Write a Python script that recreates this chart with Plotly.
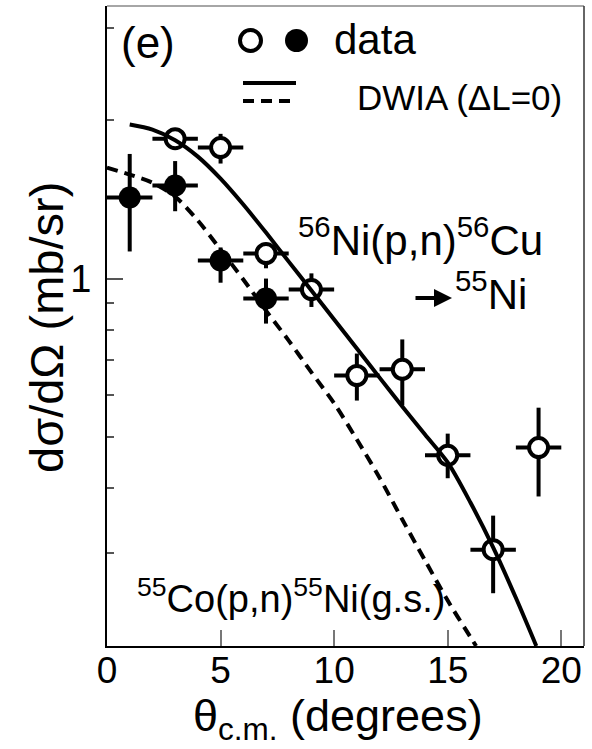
import plotly.graph_objects as go

# ---------------- data ----------------
theta_ni = [3, 5, 7, 9, 11, 13, 15, 17, 19]
xs_ni = [1.845, 1.775, 1.116, 0.953, 0.654, 0.672, 0.461, 0.305, 0.477]
ni_err_up = [0.06, 0.11, 0.05, 0.07, 0.066, 0.094, 0.046, 0.049, 0.091]
ni_err_dn = [0.07, 0.12, 0.07, 0.07, 0.068, 0.098, 0.044, 0.053, 0.092]
ni_xerr = [1, 1, 1, 1, 1, 1, 1, 1, 1]

theta_co = [1, 3, 5, 7]
xs_co = [1.426, 1.503, 1.082, 0.916]
co_err_up = [0.30, 0.17, 0.064, 0.084]
co_err_dn = [0.30, 0.16, 0.10, 0.095]
co_xerr = [1, 1, 1, 1]

theta_solid = [1, 2, 3, 4, 5, 6, 7, 8, 9, 10, 11, 12, 13, 14, 15, 16, 17, 18, 18.9]
dwia_solid = [1.963, 1.92, 1.833, 1.706, 1.549, 1.383, 1.223, 1.077, 0.949, 0.836,
              0.736, 0.648, 0.571, 0.505, 0.447, 0.375, 0.308, 0.247, 0.2]

theta_dash = [0, 1, 2, 3, 4, 5, 6, 7, 8, 9, 10, 11, 12, 13, 14, 15, 16, 16.25]
dwia_dash = [1.626, 1.577, 1.522, 1.432, 1.289, 1.135, 0.996, 0.869, 0.762, 0.663,
             0.579, 0.494, 0.418, 0.348, 0.291, 0.244, 0.208, 0.2]

x_ticks = [0, 5, 10, 15, 20]
y_major = [1]
y_minor = [0.3, 0.4, 0.5, 0.6, 0.7, 0.8, 0.9, 2, 3]

FONT = "Liberation Sans, Arial, sans-serif"

# ---------------- layout geometry ----------------
W, H = 592, 749
L, R, T, B = 107, 8, 6, 103
PW, PH = W - L - R, H - T - B


def px(x):
    return (x - L) / PW


def py(y):
    return (H - B - y) / PH


fig = go.Figure()

fig.add_trace(go.Scatter(
    x=theta_ni, y=xs_ni, mode="markers",
    marker=dict(symbol="circle", size=19, color="white",
                line=dict(color="black", width=4)),
    error_x=dict(type="data", array=ni_xerr, color="black", thickness=4, width=0),
    error_y=dict(type="data", array=ni_err_up, arrayminus=ni_err_dn,
                 color="black", thickness=4, width=0),
    showlegend=False,
))
fig.add_trace(go.Scatter(
    x=theta_co, y=xs_co, mode="markers",
    marker=dict(symbol="circle", size=22, color="black"),
    error_x=dict(type="data", array=co_xerr, color="black", thickness=4, width=0),
    error_y=dict(type="data", array=co_err_up, arrayminus=co_err_dn,
                 color="black", thickness=4, width=0),
    showlegend=False,
))
fig.add_trace(go.Scatter(
    x=theta_solid, y=dwia_solid, mode="lines",
    line=dict(color="black", width=4, shape="spline", smoothing=0.8),
    showlegend=False,
))
fig.add_trace(go.Scatter(
    x=theta_dash, y=dwia_dash, mode="lines",
    line=dict(color="black", width=4, dash="11px,7px", shape="spline", smoothing=0.8),
    showlegend=False,
))

shapes = [
    # top and right frame
    dict(type="line", xref="paper", yref="paper", x0=0, x1=1, y0=1, y1=1,
         line=dict(color="#888", width=1.5)),
    dict(type="line", xref="paper", yref="paper", x0=1, x1=1, y0=0, y1=1,
         line=dict(color="#333", width=1.5)),
    # legend symbols
    dict(type="circle", xref="paper", yref="paper",
         x0=px(240), x1=px(261), y0=py(51), y1=py(30),
         line=dict(color="black", width=4), fillcolor="white"),
    dict(type="circle", xref="paper", yref="paper",
         x0=px(285), x1=px(308), y0=py(52), y1=py(29),
         line=dict(color="black", width=0), fillcolor="black"),
    dict(type="line", xref="paper", yref="paper",
         x0=px(243), x1=px(296), y0=py(83), y1=py(83),
         line=dict(color="black", width=4)),
    dict(type="line", xref="paper", yref="paper",
         x0=px(243), x1=px(296), y0=py(101), y1=py(101),
         line=dict(color="black", width=4, dash="11px,7px")),
]


def ann(text, x, y, size, xanchor="left", yanchor="middle", **kw):
    return dict(text=text, xref="paper", yref="paper", x=px(x), y=py(y),
                xanchor=xanchor, yanchor=yanchor, showarrow=False,
                font=dict(family=FONT, size=size, color="black"), **kw)


annotations = [
    ann("(e)", 119, 42, 44),
    ann("data", 332, 40, 42),
    ann("DWIA (ΔL=0)", 355, 97, 35),
    ann("<sup>56</sup>Ni(p,n)<sup>56</sup>Cu", 296, 237, 42),
    ann("<sup>55</sup>Ni", 453, 291, 42),
    ann("<sup>55</sup>Co(p,n)<sup>55</sup>Ni(g.s.)", 135, 596, 38),
    ann("dσ/dΩ (mb/sr)", 46, 328, 47, xanchor="center", textangle=-90),
    ann("θ<sub>c.m.</sub> (degrees)", 338, 718, 45, xanchor="center"),
    dict(text="", xref="paper", yref="paper", x=px(452), y=py(298),
         ax=-38, ay=0, showarrow=True, arrowhead=2, arrowsize=0.9,
         arrowwidth=4, arrowcolor="black"),
]

fig.update_layout(
    width=W, height=H,
    margin=dict(l=L, r=R, t=T, b=B, pad=0),
    paper_bgcolor="white", plot_bgcolor="white",
    font=dict(family=FONT, color="black"),
    shapes=shapes, annotations=annotations,
    xaxis=dict(range=[0, 21], tickvals=x_ticks, ticks="inside", ticklen=16,
               tickwidth=1.5, tickcolor="#777", showgrid=False, zeroline=False,
               showline=True, linecolor="black", linewidth=2,
               tickfont=dict(family=FONT, size=37), ticklabelstandoff=-9),
    yaxis=dict(type="log", range=[-0.699, 0.5185], tickvals=y_major,
               ticktext=["1"], ticks="inside", ticklen=16, tickwidth=1.5,
               tickcolor="#555", showgrid=False, zeroline=False,
               showline=True, linecolor="black", linewidth=2,
               tickfont=dict(family=FONT, size=38), ticklabelstandoff=6,
               minor=dict(tickvals=y_minor, ticks="inside", ticklen=7,
                          tickwidth=1.5, tickcolor="#555", showgrid=False)),
)

fig.write_html("out.html")
